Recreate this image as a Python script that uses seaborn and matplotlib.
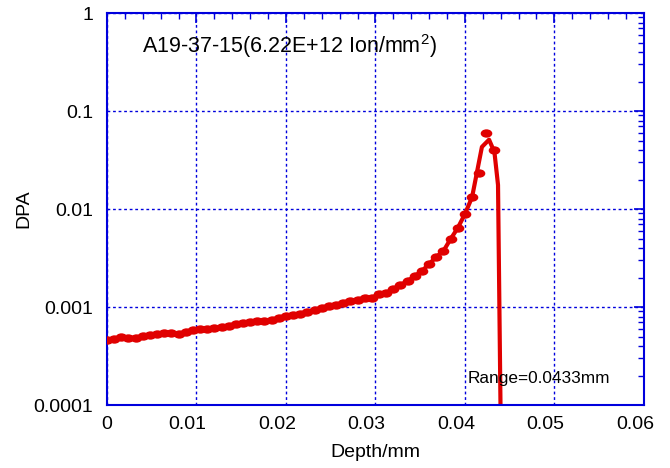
import numpy as np
import pandas as pd
import matplotlib
matplotlib.use("Agg")
import matplotlib.pyplot as plt
import seaborn as sns
from matplotlib.ticker import LogLocator, FixedLocator, NullFormatter
from matplotlib.path import Path
from matplotlib.transforms import Affine2D, ScaledTranslation

# 点データ (Depth/mm, DPA)
depth = [0.0, 0.0008, 0.0016, 0.0024, 0.0032, 0.0040, 0.0048, 0.0056, 0.0064, 0.0072,
         0.0080, 0.0088, 0.0096, 0.0104, 0.0112, 0.0120, 0.0128, 0.0136, 0.0144, 0.0152,
         0.0160, 0.0168, 0.0176, 0.0184, 0.0192, 0.0200, 0.0208, 0.0216, 0.0224, 0.0232,
         0.0240, 0.0248, 0.0256, 0.0264, 0.0272, 0.0280, 0.0288, 0.0296, 0.0304, 0.0312,
         0.0320, 0.0328, 0.0336, 0.0344, 0.0352, 0.0360, 0.0368, 0.0376, 0.0384, 0.0392,
         0.0400, 0.0408, 0.0416, 0.0424, 0.0432]
dpa = [4.60e-4, 4.71e-4, 4.94e-4, 4.83e-4, 4.83e-4, 5.06e-4, 5.18e-4, 5.30e-4, 5.43e-4, 5.43e-4,
       5.30e-4, 5.56e-4, 5.82e-4, 5.97e-4, 5.97e-4, 6.11e-4, 6.25e-4, 6.40e-4, 6.71e-4, 6.87e-4,
       7.03e-4, 7.20e-4, 7.20e-4, 7.37e-4, 7.73e-4, 8.09e-4, 8.29e-4, 8.49e-4, 8.89e-4, 9.32e-4,
       9.77e-4, 1.024e-3, 1.048e-3, 1.098e-3, 1.151e-3, 1.179e-3, 1.235e-3, 1.235e-3, 1.358e-3, 1.390e-3,
       1.528e-3, 1.68e-3, 1.84e-3, 2.07e-3, 2.33e-3, 2.75e-3, 3.24e-3, 3.73e-3, 4.94e-3, 6.40e-3,
       8.89e-3, 1.32e-2, 2.33e-2, 5.97e-2, 4.00e-2]

# 線データ (ピーク付近のみ点と異なる)
line_depth = depth[:52] + [0.0419, 0.0427, 0.0433, 0.0437, 0.0441]
line_dpa = dpa[:52] + [4.3e-2, 5.1e-2, 3.8e-2, 1.76e-2, 1e-5]

xticks = [0, 0.01, 0.02, 0.03, 0.04, 0.05, 0.06]
xticklabels = ["0", "0.01", "0.02", "0.03", "0.04", "0.05", "0.06"]
xminor = [0.002 * i for i in range(31)]
yticks = [1e-4, 1e-3, 1e-2, 1e-1, 1]
yticklabels = ["0.0001", "0.001", "0.01", "0.1", "1"]

pts = pd.DataFrame({"depth": depth, "dpa": dpa})
ln = pd.DataFrame({"depth": line_depth, "dpa": line_dpa})

sns.set_style("white")
plt.rcParams["font.family"] = ["Liberation Sans", "DejaVu Sans"]
plt.rcParams["mathtext.fontset"] = "custom"
plt.rcParams["mathtext.rm"] = "Liberation Sans"
plt.rcParams["mathtext.it"] = "Liberation Sans:italic"
plt.rcParams["text.color"] = "black"
plt.rcParams["axes.labelcolor"] = "black"

blue = "#0000dd"
red = "#e00000"

# 横長の楕円マーカー
circ = Path.unit_circle()
ellipse = Path(Affine2D().scale(1.0, 0.72).transform(circ.vertices), circ.codes)

fig = plt.figure(figsize=(6.7, 4.68), dpi=100)
ax = fig.add_axes([0.1597, 0.1346, 0.8013, 0.8376])

sns.lineplot(x="depth", y="dpa", data=ln, color=red, linewidth=3, ax=ax, sort=False)
sns.scatterplot(x="depth", y="dpa", data=pts, color=red, marker=ellipse, s=70,
                edgecolor=red, linewidth=0, ax=ax, zorder=3)

ax.set_yscale("log")
ax.set_xlim(0, 0.06)
ax.set_ylim(1e-4, 1)

ax.xaxis.set_major_locator(FixedLocator(xticks))
ax.xaxis.set_minor_locator(FixedLocator(xminor))
ax.yaxis.set_major_locator(FixedLocator(yticks))
ax.yaxis.set_minor_locator(LogLocator(base=10, subs=np.arange(2, 10)))
ax.set_xticklabels(xticklabels)
ax.set_yticklabels(yticklabels)
ax.yaxis.set_minor_formatter(NullFormatter())

ax.tick_params(which="both", direction="in", top=True, right=True, color=blue, labelsize=14, labelcolor="black")
ax.tick_params(which="major", length=7, width=1.2)
ax.tick_params(which="minor", length=4, width=1.0)
ax.tick_params(axis="x", pad=8)
ax.tick_params(axis="y", pad=10)

# 元図では "0" 以外のx目盛りラベルが少し左寄り
for lab in ax.get_xticklabels()[1:]:
    lab.set_transform(lab.get_transform() + ScaledTranslation(-0.09, 0, fig.dpi_scale_trans))

for s in ax.spines.values():
    s.set_color(blue)
    s.set_linewidth(1.5)

ax.grid(True, which="major", color=blue, linestyle=(0, (2, 2)), linewidth=1.0)

ax.set_xlabel("Depth/mm", fontsize=14, labelpad=8, color="black")
ax.set_ylabel("DPA", fontsize=14, labelpad=1, color="black")

ax.text(0.065, 0.898, "A19-37-15(6.22E+12 Ion/mm$^{2}$)", transform=ax.transAxes,
        fontsize=15.5, va="baseline", color="black")
ax.text(0.672, 0.055, "Range=0.0433mm", transform=ax.transAxes, fontsize=12.4,
        va="baseline", color="black")

fig.savefig("out.png", dpi=100)
